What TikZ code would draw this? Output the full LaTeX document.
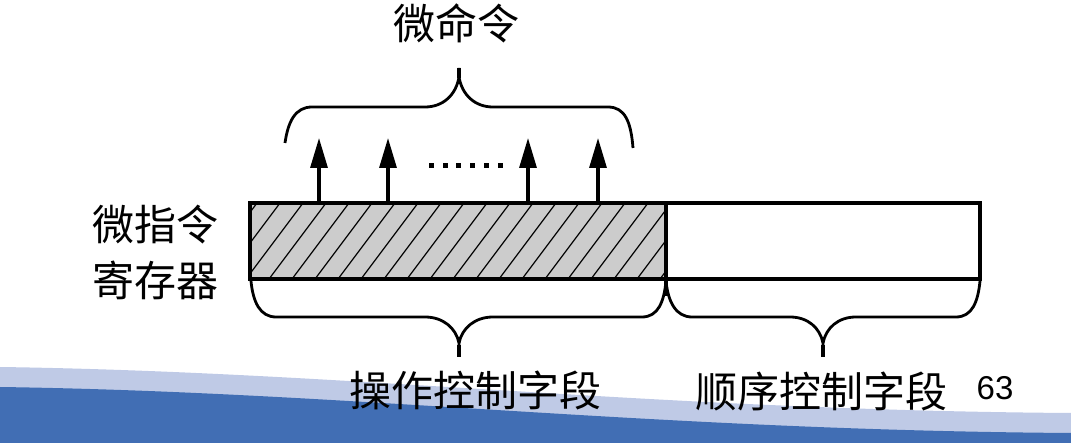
\documentclass[tikz,border=0pt]{standalone}
\usepackage{fontspec}
\newfontfamily\cjk{Noto Sans CJK SC}
\setmainfont{Liberation Sans}
\usetikzlibrary{arrows.meta}
\definecolor{bandlight}{HTML}{BFCAE6}
\definecolor{banddark}{HTML}{416EB4}
\definecolor{hatchgray}{HTML}{CCCCCC}
\tikzset{
  lbl/.style={font=\cjk\fontsize{42}{42}\selectfont, inner sep=0pt},
  num/.style={font=\fontsize{33}{33}\selectfont, inner sep=0pt},
  box/.style={draw=black, line width=3.2pt},
  brace/.style={draw=black, line width=2.8pt, line join=round},
  sig/.style={draw=black, line width=3.2pt, -{Triangle[length=30pt,width=17pt]}},
  hatch/.style={draw=black, line width=1.2pt},
}
\begin{document}
\begin{tikzpicture}[x=1pt,y=-1pt]
\useasboundingbox (0,0) rectangle (1071,443);
% background band
\fill[bandlight] (0,367) .. controls (350,372) and (650,410) .. (1071,413) -- (1071,443) -- (0,443) -- cycle;
\fill[banddark] (0,387) .. controls (350,392) and (650,430) .. (1071,433) -- (1071,443) -- (0,443) -- cycle;

% register
\coordinate (opsNW) at (250,203);
\coordinate (opsSE) at (666,279);
\coordinate (seqSE) at (980,279);
\fill[hatchgray] (opsNW) rectangle (opsSE);
\begin{scope}
  \clip (opsNW) rectangle (opsSE);
  \foreach \k in {0,...,22} {
    \draw[hatch] ({200+23*\k},279) -- ({257+23*\k},203);
  }
\end{scope}
\draw[box] (opsNW) rectangle (seqSE);
\draw[box] (666,203) -- (opsSE);

% arrows
\foreach \x/\n in {319/a,388/b,528/c,598/d} {
  \coordinate (s\n) at (\x,203);
  \coordinate (t\n) at (\x,138);
  \draw[sig] (s\n) -- (t\n);
}
% dots
\foreach \x in {431.5,445,458.5,472,486,500} {
  \fill (\x-2.5,163.5) rectangle (\x+2.5,168.5);
}

% top brace
\coordinate (tipTop) at (459,68);
\draw[brace] (285,143) .. controls (288,122) and (295,107) .. (312,107) -- (425,107)
   .. controls (443,107) and (456,95) .. (459,77) -- (tipTop);
\draw[brace] (459,77) .. controls (462,95) and (475,107) .. (493,107) -- (608,107)
   .. controls (625,107) and (631,122) .. (633,148);
\draw[black, line width=4pt] (459,68) -- (459,78);

% bottom left brace
\coordinate (tipL) at (459,357);
\draw[brace] (251,281) .. controls (253,302) and (260,317) .. (276,317) -- (425,317)
   .. controls (443,317) and (456,328) .. (459,343) -- (tipL);
\draw[brace] (459,343) .. controls (462,328) and (475,317) .. (493,317) -- (642,317)
   .. controls (658,317) and (664,302) .. (666,281);
\draw[black, line width=4pt] (459,345) -- (tipL);

% bottom right brace
\coordinate (tipR) at (823,357);
\draw[brace] (666,281) .. controls (668,302) and (676,317) .. (692,317) -- (790,317)
   .. controls (808,317) and (820,328) .. (823,343) -- (tipR);
\draw[brace] (823,343) .. controls (826,328) and (838,317) .. (856,317) -- (956,317)
   .. controls (972,317) and (978,302) .. (980,281);
\draw[black, line width=4pt] (823,345) -- (tipR);
\draw[black, line width=4pt] (666,281) -- (666,296);

% labels
\node[lbl] (micro) at (456,23) {微命令};
\node[lbl] (reg1) at (155,225) {微指令};
\node[lbl] (reg2) at (155,280) {寄存器};
\node[lbl] (opf) at (475,390) {操作控制字段};
\node[lbl] (seqf) at (821,391) {顺序控制字段};
\node[num] (page) at (995,388) {63};
\end{tikzpicture}
\end{document}
